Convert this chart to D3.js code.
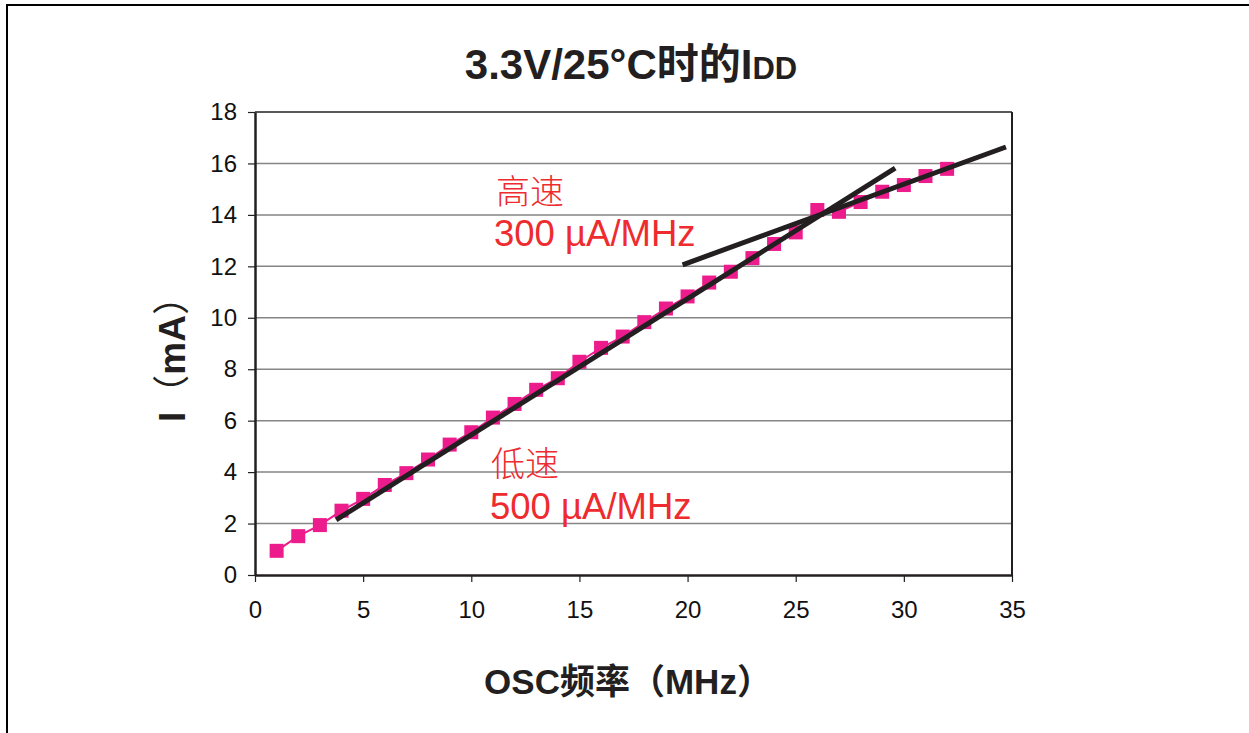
<!DOCTYPE html>
<html>
<head>
<meta charset="utf-8">
<script src="https://cdn.jsdelivr.net/npm/d3@7"></script>
<style>
  body { margin: 0; background: #fff; }
  text { font-family: "Liberation Sans", Arial, "Noto Sans CJK SC", sans-serif; }
</style>
</head>
<body>
<div id="chart"></div>
<script>
// Data
const freqMHz = [1, 2, 3, 4, 5, 6, 7, 8, 9, 10, 11, 12, 13, 14, 15, 16,
                 17, 18, 19, 20, 21, 22, 23, 24, 25, 26, 27, 28, 29, 30, 31, 32];
const iddMA = [0.94, 1.51, 1.94, 2.50, 2.96, 3.50, 3.96, 4.49, 5.07, 5.55, 6.12, 6.65,
               7.20, 7.65, 8.29, 8.83, 9.27, 9.83, 10.36, 10.83, 11.37, 11.79, 12.32, 12.87,
               13.32, 14.19, 14.12, 14.50, 14.90, 15.16, 15.51, 15.79];
// Fitted slope lines (low speed ~500 uA/MHz, high speed ~300 uA/MHz)
const lowFit = [[3.75, 2.14], [29.6, 15.82]];
const highFit = [[19.77, 12.06], [34.72, 16.64]];
const xTicks = [0, 5, 10, 15, 20, 25, 30, 35];
const yTicks = [0, 2, 4, 6, 8, 10, 12, 14, 16, 18];

const W = 1249, H = 733;
const plot = { left: 255, right: 1012, top: 112, bottom: 575 };
const ink = "#231f20";
const pink = "#ec1c8c";
const red = "#ee2b2e";

const svg = d3.select("#chart").append("svg")
    .attr("width", W)
    .attr("height", H);

// outer page frame (runs off right/bottom edge)
svg.append("rect")
    .attr("x", 7).attr("y", 5)
    .attr("width", W + 20).attr("height", H + 20)
    .attr("fill", "none")
    .attr("stroke", "#000")
    .attr("stroke-width", 2);

const x = d3.scaleLinear().domain([0, 35]).range([plot.left, plot.right]);
const y = d3.scaleLinear().domain([0, 18]).range([plot.bottom, plot.top]);

// gridlines
svg.append("g")
    .selectAll("line")
    .data(yTicks.filter(v => v > 0 && v < 18))
    .join("line")
    .attr("x1", plot.left).attr("x2", plot.right)
    .attr("y1", d => y(d)).attr("y2", d => y(d))
    .attr("stroke", "#858585")
    .attr("stroke-width", 1.5);

// top and right border of plot area
svg.append("line")
    .attr("x1", plot.left).attr("x2", plot.right)
    .attr("y1", y(18)).attr("y2", y(18))
    .attr("stroke", ink).attr("stroke-width", 1.5);
svg.append("line")
    .attr("x1", plot.right).attr("x2", plot.right)
    .attr("y1", plot.top).attr("y2", plot.bottom)
    .attr("stroke", ink).attr("stroke-width", 2);

// axes
const yAxis = svg.append("g")
    .attr("transform", `translate(${plot.left},0)`)
    .call(d3.axisLeft(y).tickValues(yTicks).tickSize(7).tickPadding(11).tickSizeOuter(0));
const xAxis = svg.append("g")
    .attr("transform", `translate(0,${plot.bottom})`)
    .call(d3.axisBottom(x).tickValues(xTicks).tickSize(7).tickPadding(19).tickSizeOuter(0));

[yAxis, xAxis].forEach(g => {
    g.select(".domain").attr("stroke", ink).attr("stroke-width", 2.5);
    g.selectAll(".tick line").attr("stroke", ink).attr("stroke-width", 1.2);
    g.selectAll(".tick text")
        .attr("fill", "#111")
        .style("font-size", "24px")
        .style("font-family", "'Liberation Sans', Arial, sans-serif");
});

// measured data: thin line + square markers
const pts = freqMHz.map((f, i) => [f, iddMA[i]]);
svg.append("path")
    .datum(pts)
    .attr("d", d3.line().x(d => x(d[0])).y(d => y(d[1])))
    .attr("fill", "none")
    .attr("stroke", pink)
    .attr("stroke-width", 2);

svg.append("g")
    .selectAll("rect")
    .data(pts)
    .join("rect")
    .attr("x", d => x(d[0]) - 7)
    .attr("y", d => y(d[1]) - 7)
    .attr("width", 14)
    .attr("height", 14)
    .attr("fill", pink);

// slope lines
[lowFit, highFit].forEach(seg => {
    svg.append("path")
        .datum(seg)
        .attr("d", d3.line().x(d => x(d[0])).y(d => y(d[1])))
        .attr("fill", "none")
        .attr("stroke", ink)
        .attr("stroke-width", 5);
});

// annotations
const cjk = "'Noto Sans CJK SC', sans-serif";
svg.append("text")
    .attr("x", 496).attr("y", 204)
    .attr("fill", red)
    .style("font-family", cjk)
    .style("font-weight", 300)
    .style("font-size", "34px")
    .text("高速");
svg.append("text")
    .attr("x", 494).attr("y", 246)
    .attr("fill", red)
    .style("font-size", "36.5px")
    .text("300 µA/MHz");
svg.append("text")
    .attr("x", 491).attr("y", 476)
    .attr("fill", red)
    .style("font-family", cjk)
    .style("font-weight", 300)
    .style("font-size", "34px")
    .text("低速");
svg.append("text")
    .attr("x", 490).attr("y", 519)
    .attr("fill", red)
    .style("font-size", "36.5px")
    .text("500 µA/MHz");

// title
const title = svg.append("text")
    .attr("x", 631).attr("y", 79)
    .attr("text-anchor", "middle")
    .attr("fill", ink)
    .style("font-weight", "bold")
    .style("font-size", "42px");
title.append("tspan").text("3.3V/25°C");
title.append("tspan").style("font-family", cjk).text("时的");
title.append("tspan").text("I");
title.append("tspan").style("font-size", "31px").text("DD");

// axis titles
const xt = svg.append("text")
    .attr("x", 628).attr("y", 694)
    .attr("text-anchor", "middle")
    .attr("fill", ink)
    .style("font-weight", "bold")
    .style("font-size", "35px");
xt.append("tspan").text("OSC");
xt.append("tspan").style("font-family", cjk).text("频率（");
xt.append("tspan").text("MHz");
xt.append("tspan").style("font-family", cjk).text("）");

const yt = svg.append("text")
    .attr("transform", "translate(185,350) rotate(-90)")
    .attr("text-anchor", "middle")
    .attr("fill", ink)
    .style("font-weight", "bold")
    .style("font-size", "37px");
yt.append("tspan").text("I");
yt.append("tspan").style("font-family", cjk).style("font-weight", 400).text("（");
yt.append("tspan").text("mA");
yt.append("tspan").style("font-family", cjk).style("font-weight", 400).text("）");
</script>
</body>
</html>
